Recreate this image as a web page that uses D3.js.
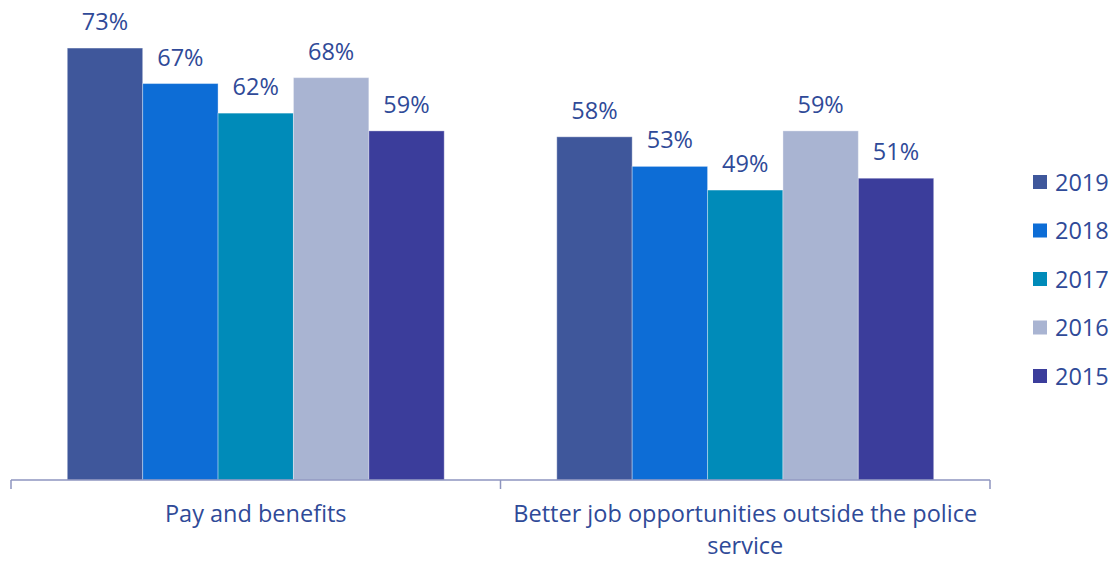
<!DOCTYPE html>
<html>
<head>
<meta charset="utf-8">
<script src="https://cdn.jsdelivr.net/npm/d3@7"></script>
<style>
  html, body { margin: 0; padding: 0; background: #ffffff; }
  svg { display: block; }
  text { font-family: "Open Sans", "Noto Sans", sans-serif; fill: #2f4a98; }
</style>
</head>
<body>
<svg id="chart" width="1114" height="561"></svg>
<script>
// Reasons for leaving, by survey year
const categories = ["Pay and benefits", "Better job opportunities outside the police service"];
const years = ["2019", "2018", "2017", "2016", "2015"];
const values2019 = [73, 58];
const values2018 = [67, 53];
const values2017 = [62, 49];
const values2016 = [68, 59];
const values2015 = [59, 51];
const yearColors = ["#3f579b", "#0d6dd6", "#008bb9", "#a9b4d2", "#3b3d9b"];

const seriesValues = [values2019, values2018, values2017, values2016, values2015];

const svg = d3.select("#chart");
const baseY = 480;
const plotLeft = 11, plotRight = 990;
const fontSize = 23.5;

const y = d3.scaleLinear().domain([0, 80]).range([baseY, baseY - 5.917 * 80]);
const x0 = d3.scaleBand().domain(categories).range([plotLeft, plotRight]).paddingInner(0).paddingOuter(0);
const groupWidth = x0.bandwidth() * 0.77;
const x1 = d3.scaleBand().domain(years).range([0, groupWidth]).padding(0);
const color = d3.scaleOrdinal().domain(years).range(yearColors);

const rows = [];
categories.forEach((c, ci) => {
  years.forEach((yr, si) => {
    rows.push({ category: c, year: yr, value: seriesValues[si][ci] });
  });
});

const groupOffset = (x0.bandwidth() - groupWidth) / 2;

// bars
svg.append("g").selectAll("rect").data(rows).join("rect")
  .attr("x", d => x0(d.category) + groupOffset + x1(d.year))
  .attr("y", d => y(d.value))
  .attr("width", x1.bandwidth())
  .attr("height", d => baseY - y(d.value))
  .attr("fill", d => color(d.year))
  .attr("stroke", "#ffffff")
  .attr("stroke-opacity", 0.35)
  .attr("stroke-width", 1);

// value labels
svg.append("g").selectAll("text").data(rows).join("text")
  .attr("x", d => x0(d.category) + groupOffset + x1(d.year) + x1.bandwidth() / 2)
  .attr("y", d => y(d.value) - 18)
  .attr("text-anchor", "middle")
  .attr("font-size", fontSize)
  .text(d => d.value + "%");

// category axis with boundary ticks
const axisG = svg.append("g");
axisG.append("line")
  .attr("x1", plotLeft).attr("x2", plotRight)
  .attr("y1", baseY).attr("y2", baseY)
  .attr("stroke", "#8e95bf").attr("stroke-width", 1.5);
const tickXs = categories.map(c => x0(c)).concat([plotRight]);
axisG.selectAll("line.tick").data(tickXs).join("line")
  .attr("class", "tick")
  .attr("x1", d => d).attr("x2", d => d)
  .attr("y1", baseY).attr("y2", baseY + 9)
  .attr("stroke", "#8e95bf").attr("stroke-width", 1.5);

// category labels, wrapped to the band width
const lineSets = [["Pay and benefits"], ["Better job opportunities outside the police", "service"]];
categories.forEach((c, i) => {
  const cx = x0(c) + x0.bandwidth() / 2;
  const t = axisG.append("text")
    .attr("x", cx)
    .attr("y", 522)
    .attr("text-anchor", "middle")
    .attr("font-size", fontSize);
  lineSets[i].forEach((ln, k) => {
    t.append("tspan").attr("x", cx).attr("dy", k === 0 ? 0 : 31.5).text(ln);
  });
});

// legend
const legend = svg.append("g");
years.forEach((yr, i) => {
  const cy = 182 + i * 48.5;
  legend.append("rect")
    .attr("x", 1033).attr("y", cy - 7)
    .attr("width", 14).attr("height", 14)
    .attr("fill", color(yr));
  legend.append("text")
    .attr("x", 1055).attr("y", cy + 8.5)
    .attr("font-size", fontSize)
    .text(yr);
});
</script>
</body>
</html>
